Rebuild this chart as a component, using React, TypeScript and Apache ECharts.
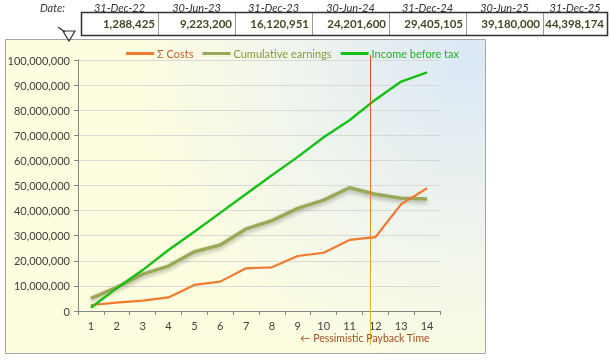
import React, { useEffect, useRef } from 'react';
import * as echarts from 'echarts';

const categories = ['1', '2', '3', '4', '5', '6', '7', '8', '9', '10', '11', '12', '13', '14'];
const costs = [2400000, 3300000, 4100000, 5400000, 10400000, 11700000, 17000000, 17400000, 21900000, 23200000, 28300000, 29400000, 42600000, 48900000];
const cumulativeEarnings = [5000000, 9400000, 14700000, 17900000, 23600000, 26300000, 32700000, 36000000, 40900000, 44200000, 49100000, 46500000, 44900000, 44600000];
const incomeBeforeTax = [1290000, 9100000, 16300000, 24300000, 31600000, 39100000, 46600000, 54100000, 61400000, 69200000, 76000000, 84200000, 91400000, 95100000];
const seriesNames = ['Σ Costs', 'Cumulative earnings', 'Income before tax'];
const dateLabels = ['31-Dec-22', '30-Jun-23', '31-Dec-23', '30-Jun-24', '31-Dec-24', '30-Jun-25', '31-Dec-25'];
const dateValues = [1288425, 9223200, 16120951, 24201600, 29405105, 39180000, 44398174];
const yMin = 0;
const yMax = 100000000;
const yInterval = 10000000;
const paybackPosition = 11.78;
const paybackLabel = '← Pessimistic Payback Time';

const FONT = 'Lato, "DejaVu Sans", sans-serif';
const fmt = (v: number) => String(Math.round(v)).replace(/\B(?=(\d{3})+(?!\d))/g, ',');

export default function App() {
  const ref = useRef<HTMLDivElement>(null);
  useEffect(() => {
    if (!ref.current) return;
    const chart = echarts.init(ref.current, undefined, { renderer: 'svg' });

    const colLeft = 81;
    const colW = 77;
    const tableRight = 607;
    const tableTop = 12;
    const tableBottom = 35;
    const headerEls: any[] = [];
    headerEls.push({
      type: 'text', x: 65, y: 7,
      style: { text: 'Date:', fill: '#333', font: `italic 11px ${FONT}`, textAlign: 'right', textVerticalAlign: 'middle' },
    });
    dateLabels.forEach((d, i) => {
      const l = colLeft + i * colW;
      const r = Math.min(l + colW, tableRight);
      headerEls.push({
        type: 'text', x: (l + r) / 2, y: 7,
        style: { text: d, fill: '#333', font: `italic 11px ${FONT}`, textAlign: 'center', textVerticalAlign: 'middle' },
      });
      headerEls.push({
        type: 'text', x: r - 3, y: (tableTop + tableBottom) / 2,
        style: { text: fmt(dateValues[i]), fill: '#3d4a22', font: `bold 11.5px ${FONT}`, textAlign: 'right', textVerticalAlign: 'middle' },
      });
      if (i > 0) {
        headerEls.push({
          type: 'line', shape: { x1: l + 0.5, y1: tableTop, x2: l + 0.5, y2: tableBottom },
          style: { stroke: '#9a9a9a', lineWidth: 1 },
        });
      }
    });
    headerEls.push({
      type: 'rect', shape: { x: colLeft + 0.5, y: tableTop + 0.5, width: tableRight - colLeft, height: tableBottom - tableTop },
      style: { fill: 'none', stroke: '#333', lineWidth: 1.5 },
    });
    headerEls.push({
      type: 'polygon', shape: { points: [[63, 31], [75, 31], [69, 41]] },
      style: { fill: 'none', stroke: '#333', lineWidth: 1.2 },
    });
    headerEls.push({
      type: 'line', shape: { x1: 58, y1: 27, x2: 65, y2: 32 },
      style: { stroke: '#333', lineWidth: 1.2 },
    });

    const bg = {
      type: 'rect', z: -10,
      shape: { x: 5.5, y: 39.5, width: 480, height: 314 },
      style: {
        fill: new echarts.graphic.RadialGradient(470, 60, 330, [
          { offset: 0, color: '#dbe8f6' },
          { offset: 0.55, color: '#f0f5ec' },
          { offset: 1, color: '#fdfde0' },
        ], true),
        stroke: '#a6a6a6', lineWidth: 1,
      },
    };

    const option: any = {
      animation: false,
      textStyle: { fontFamily: FONT },
      grid: { left: 78, top: 60, width: 362, height: 251, containLabel: false },
      legend: {
        top: 43, left: 121, icon: 'rect', itemWidth: 28, itemHeight: 3, itemGap: 9,
        data: [
          { name: seriesNames[0], textStyle: { color: '#c0602a' } },
          { name: seriesNames[1], textStyle: { color: '#8a9a3a' } },
          { name: seriesNames[2], textStyle: { color: '#22b022' } },
        ],
        textStyle: { fontSize: 11, fontFamily: FONT, padding: [0, 0, 0, -2] },
      },
      xAxis: {
        type: 'category', data: categories, boundaryGap: true,
        axisLine: { lineStyle: { color: '#868686' } },
        axisTick: { show: true, length: 4, lineStyle: { color: '#868686' } },
        axisLabel: { color: '#404040', fontSize: 11, fontFamily: FONT, margin: 9 },
        splitLine: { show: false },
      },
      yAxis: {
        type: 'value', min: yMin, max: yMax, interval: yInterval,
        axisLine: { show: true, lineStyle: { color: '#868686' } },
        axisTick: { show: true, length: 4, lineStyle: { color: '#868686' } },
        axisLabel: { formatter: (v: number) => fmt(v), color: '#404040', fontSize: 11, fontFamily: FONT, margin: 8 },
        splitLine: { lineStyle: { color: '#d9d9d9' } },
      },
      series: [
        {
          name: seriesNames[0], type: 'line', data: costs, symbol: 'none', z: 4,
          itemStyle: { color: '#f07a30' }, lineStyle: { color: '#f07a30', width: 2.2 },
        },
        {
          name: seriesNames[1], type: 'line', data: cumulativeEarnings, symbol: 'none', z: 3,
          itemStyle: { color: '#9aa85a' },
          lineStyle: { color: '#9aa85a', width: 3.5, shadowColor: 'rgba(0,0,0,0.3)', shadowBlur: 4, shadowOffsetY: 2 },
        },
        {
          name: seriesNames[2], type: 'line', data: incomeBeforeTax, symbol: 'none', z: 5,
          itemStyle: { color: '#14c014' }, lineStyle: { color: '#14c014', width: 2.4 },
        },
      ],
      graphic: { elements: [bg, ...headerEls] },
    };
    chart.setOption(option);

    const idx = Math.floor(paybackPosition) - 1;
    const xa = chart.convertToPixel({ xAxisIndex: 0 }, idx) as number;
    const xb = chart.convertToPixel({ xAxisIndex: 0 }, idx + 1) as number;
    const px = Math.round(xa + (paybackPosition - 1 - idx) * (xb - xa)) + 0.5;
    const yTop = (chart.convertToPixel({ yAxisIndex: 0 }, yMax) as number) - 5;
    const yBot = (chart.convertToPixel({ yAxisIndex: 0 }, yMin) as number) + 34;
    chart.setOption({
      graphic: {
        elements: [
          bg,
          ...headerEls,
          {
            type: 'line', z: 10,
            shape: { x1: px, y1: yTop, x2: px, y2: yBot },
            style: {
              stroke: new echarts.graphic.LinearGradient(0, yTop, 0, yBot, [
                { offset: 0, color: '#e8402a' },
                { offset: 1, color: '#d8c430' },
              ], true),
              lineWidth: 1,
            },
          },
          {
            type: 'text', z: 11, x: 300, y: (chart.convertToPixel({ yAxisIndex: 0 }, yMin) as number) + 27,
            style: { text: paybackLabel, fill: '#a0501e', font: `10.5px ${FONT}`, textAlign: 'left', textVerticalAlign: 'middle' },
          },
        ],
      },
    });

    return () => chart.dispose();
  }, []);
  return <div ref={ref} style={{ position: 'fixed', left: 0, top: 0, width: 611, height: 361 }} />;
}
